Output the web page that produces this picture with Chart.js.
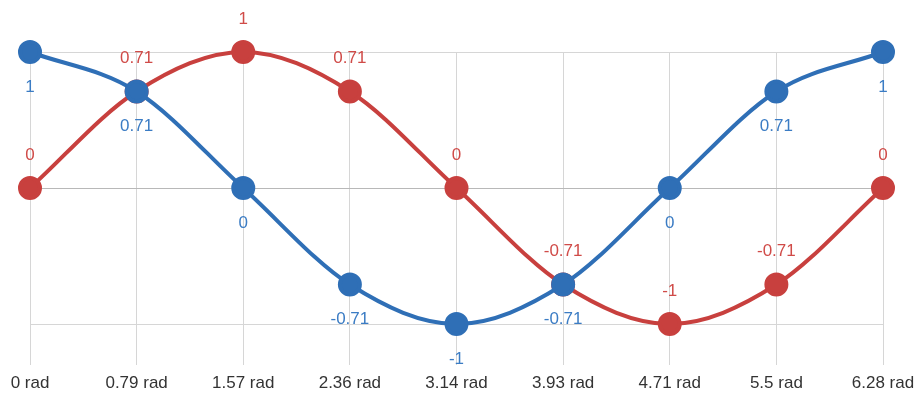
<!DOCTYPE html>
<html>
<head>
<meta charset="utf-8">
<script src="https://cdn.jsdelivr.net/npm/chart.js@4"></script>
<style>
  html, body { margin: 0; padding: 0; background: #fff; }
  #wrap { width: 918px; height: 398px; }
</style>
</head>
<body>
<div id="wrap"><canvas id="chart"></canvas></div>
<script>
const CATEGORIES = ["0 rad", "0.79 rad", "1.57 rad", "2.36 rad", "3.14 rad", "3.93 rad", "4.71 rad", "5.5 rad", "6.28 rad"];
const COS_VALUES = [1, 0.71, 0, -0.71, -1, -0.71, 0, 0.71, 1];
const SIN_VALUES = [0, 0.71, 1, 0.71, 0, -0.71, -1, -0.71, 0];
const Y_TICKS = [-1, 0, 1];

const COLORS = {
  blue: "#2f6fb6",
  blueText: "#3b7cc4",
  red: "#c8403e",
  redText: "#d04b48",
  grid: "#d6d6d6",
  zero: "#b8b8b8",
  text: "#333"
};

Chart.defaults.font.family = "'Liberation Sans', Arial, sans-serif";

// simple value labels, above for sin, below for cos
const valueLabels = {
  id: "valueLabels",
  afterDatasetsDraw(chart) {
    const ctx = chart.ctx;
    ctx.save();
    ctx.font = "17px 'Liberation Sans', Arial, sans-serif";
    ctx.textAlign = "center";
    ctx.textBaseline = "middle";
    chart.data.datasets.forEach((ds, i) => {
      const meta = chart.getDatasetMeta(i);
      meta.data.forEach((pt, j) => {
        const dy = ds.labelPos === "above" ? -33 : 35;
        ctx.fillStyle = ds.labelColor;
        ctx.fillText(String(ds.data[j]), pt.x, pt.y + dy);
      });
    });
    ctx.restore();
  }
};

new Chart(document.getElementById("chart"), {
  type: "line",
  data: {
    labels: CATEGORIES,
    datasets: [
      {
        label: "cos",
        data: COS_VALUES,
        borderColor: COLORS.blue,
        backgroundColor: COLORS.blue,
        borderWidth: 4,
        pointRadius: 10,
        pointHoverRadius: 10,
        cubicInterpolationMode: "monotone",
        clip: false,
        labelPos: "below",
        labelColor: COLORS.blueText
      },
      {
        label: "sin",
        data: SIN_VALUES,
        borderColor: COLORS.red,
        backgroundColor: COLORS.red,
        borderWidth: 4,
        pointRadius: 10,
        pointHoverRadius: 10,
        cubicInterpolationMode: "monotone",
        clip: false,
        labelPos: "above",
        labelColor: COLORS.redText
      }
    ]
  },
  options: {
    responsive: true,
    maintainAspectRatio: false,
    animation: false,
    layout: { padding: { left: 30, right: 35, top: 52, bottom: 0 } },
    plugins: {
      legend: { display: false },
      tooltip: { enabled: false }
    },
    scales: {
      x: {
        offset: false,
        border: { display: false },
        grid: { color: COLORS.grid, lineWidth: 1, tickLength: 41 },
        ticks: {
          color: COLORS.text,
          font: { size: 17, lineHeight: 1 },
          padding: 10,
          maxRotation: 0,
          autoSkip: false
        },
        afterFit: (axis) => {
          axis.height = 74;
          axis.paddingLeft = 0;
          axis.paddingRight = 0;
        }
      },
      y: {
        min: -1,
        max: 1,
        border: { display: false },
        afterBuildTicks: (axis) => { axis.ticks = Y_TICKS.map((v) => ({ value: v })); },
        grid: {
          drawTicks: false,
          color: (c) => c.tick && c.tick.value === 0 ? COLORS.zero : COLORS.grid
        },
        ticks: { display: false }
      }
    }
  },
  plugins: [valueLabels]
});
</script>
</body>
</html>
